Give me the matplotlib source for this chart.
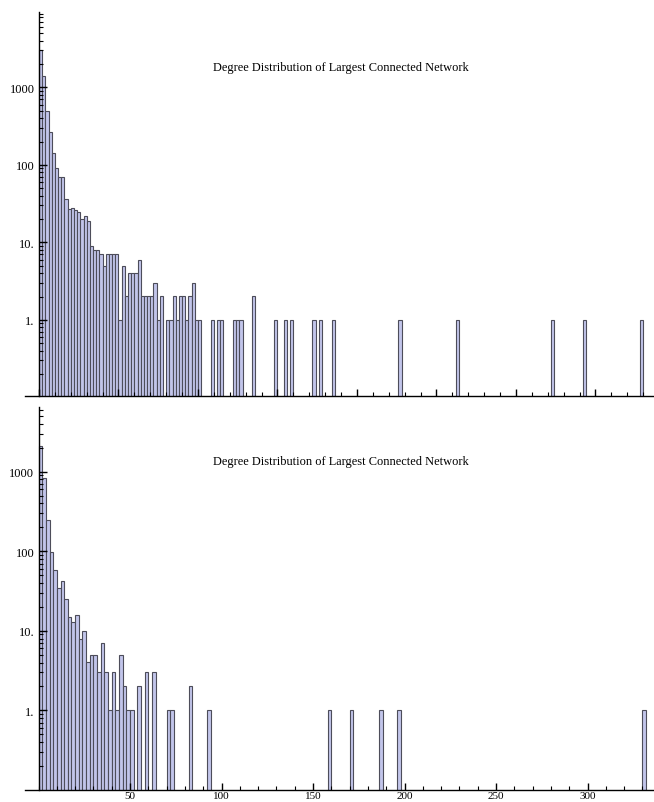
import numpy as np
import matplotlib.pyplot as plt
from matplotlib.ticker import FixedLocator, MultipleLocator, NullFormatter

plt.rcParams['font.family'] = ['Liberation Serif', 'DejaVu Serif']

title = "Degree Distribution of Largest Connected Network"
bin_width = 2

# upper network: counts per degree bin, bins of width 2 starting at degree 0
upper_counts = [3090, 1420, 500, 270, 142, 92, 69, 69, 36, 27,
                28, 26, 25, 20, 22, 19, 9, 8, 8, 7,
                5, 7, 7, 7, 7, 1, 5, 2, 4, 4,
                4, 6, 2, 2, 2, 2, 3, 1, 2, 0,
                1, 1, 2, 1, 2, 2, 1, 2, 3, 1,
                1, 0, 0, 0, 1, 0, 1, 1]
# isolated high-degree bins of the upper network
upper_tail_deg = [122, 124, 126, 134, 148, 154, 158, 172, 176, 184, 226, 262, 322, 342, 378]
upper_tail_cnt = [1, 1, 1, 2, 1, 1, 1, 1, 1, 1, 1, 1, 1, 1, 1]

# lower network
lower_counts = [2130, 830, 245, 99, 58, 35, 42, 25, 15, 13,
                16, 8, 10, 4, 5, 5, 3, 7, 3, 1,
                3, 1, 5, 2, 1, 1, 0, 2, 0, 3,
                0, 3, 0, 0, 0, 1, 1, 0, 0, 0,
                0, 2, 0, 0, 0, 0, 1]
lower_tail_deg = [158, 170, 186, 196, 330]
lower_tail_cnt = [1, 1, 1, 1, 1]

y_major = [1, 10, 100, 1000]
y_labels = ["1.", "10.", "100", "1000"]
x_labels_lower = [50, 100, 150, 200, 250, 300]

bar_face = '#c2c5ea'
bar_edge = '#4d4d5a'

fig = plt.figure(figsize=(6.54, 8.03), dpi=100)


def panel(rect, counts, tail_deg, tail_cnt, xlim, ylim, show_xlabels):
    ax = fig.add_axes(rect)
    ax.set_yscale('log')
    deg = list(np.arange(len(counts)) * bin_width) + tail_deg
    cnt = list(counts) + tail_cnt
    deg = [d for d, c in zip(deg, cnt) if c > 0]
    cnt = [c for c in cnt if c > 0]
    ax.bar(deg, cnt, width=bin_width, align='edge', bottom=ylim[0] / 10,
           color=bar_face, edgecolor=bar_edge, linewidth=0.8)
    ax.set_xlim(*xlim)
    ax.set_ylim(*ylim)

    for s in ['top', 'right']:
        ax.spines[s].set_visible(False)
    ax.spines['left'].set_position(('data', 0))
    for s in ['left', 'bottom']:
        ax.spines[s].set_linewidth(1.0)

    ax.yaxis.set_major_locator(FixedLocator(y_major))
    ax.set_yticklabels(y_labels)
    minors = [m * 10.0 ** e for e in range(-1, 4) for m in range(2, 10)]
    ax.yaxis.set_minor_locator(FixedLocator(minors))
    ax.yaxis.set_minor_formatter(NullFormatter())
    ax.tick_params(axis='y', which='major', direction='in', length=6, width=1, labelsize=9, pad=3)
    ax.tick_params(axis='y', which='minor', direction='in', length=3, width=0.8)

    ax.xaxis.set_major_locator(MultipleLocator(50))
    ax.xaxis.set_minor_locator(MultipleLocator(10))
    ax.tick_params(axis='x', which='major', direction='in', length=5, width=1, labelsize=8, pad=1)
    ax.tick_params(axis='x', which='minor', direction='in', length=3, width=0.8)
    if show_xlabels:
        ax.set_xticks(x_labels_lower)
        ax.set_xticklabels([str(v) for v in x_labels_lower])
    else:
        ax.set_xticklabels([])
    return ax


# upper panel
ax1 = panel([25 / 654, 406 / 803, 629 / 654, 384 / 803],
            upper_counts, upper_tail_deg, upper_tail_cnt,
            (-8.8, 386.8), (0.104, 9420), False)
# lower panel
ax2 = panel([25 / 654, 12 / 803, 629 / 654, 383 / 803],
            lower_counts, lower_tail_deg, lower_tail_cnt,
            (-7.4, 336.3), (0.1, 6500), True)

fig.text(341 / 654, 1 - 68 / 803, title, ha='center', va='center', fontsize=8.9)
fig.text(341 / 654, 1 - 462 / 803, title, ha='center', va='center', fontsize=8.9)

fig.savefig('out.png', dpi=100)
